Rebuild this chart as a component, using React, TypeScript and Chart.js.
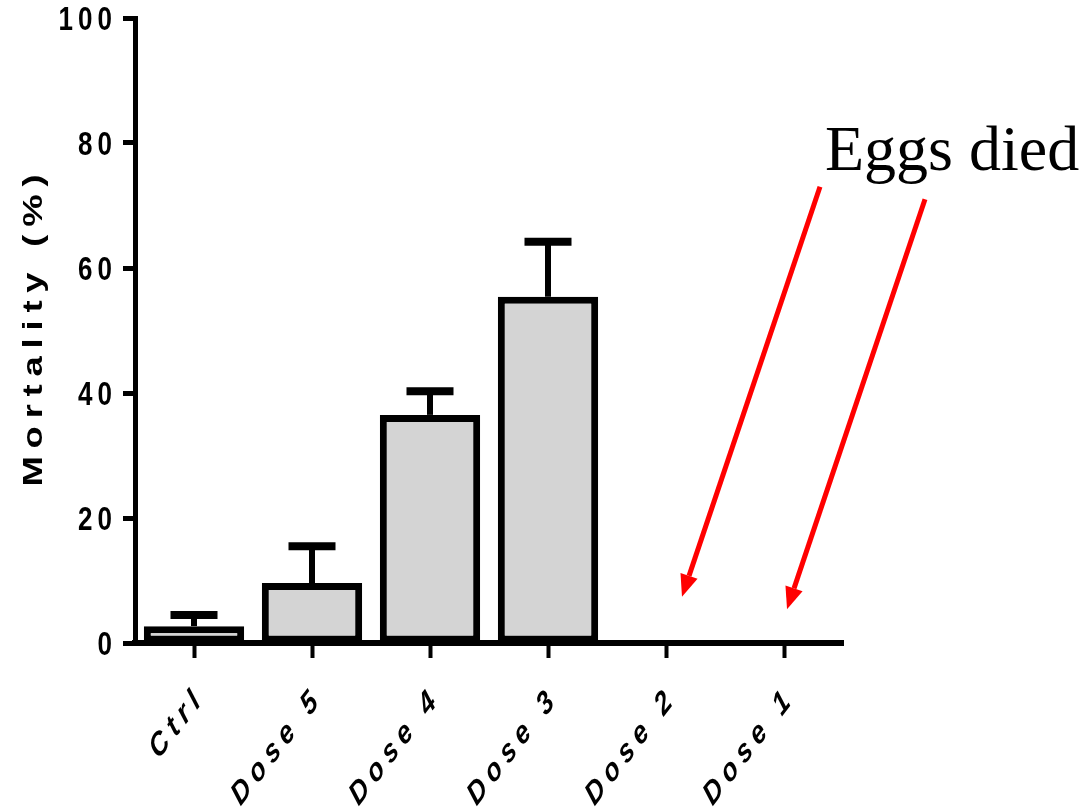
import React, { useEffect, useRef } from "react";
import { Chart, registerables } from "chart.js";

Chart.register(...registerables);

const categories = ["Ctrl", "Dose 5", "Dose 4", "Dose 3", "Dose 2", "Dose 1"];
const mortality: (number | null)[] = [2.7, 9.6, 36.5, 55.4, null, null];
const errorUpper: (number | null)[] = [4.5, 15.5, 40.3, 64.2, null, null];
const yTicks = [0, 20, 40, 60, 80, 100];
const yTitle = "Mortality (%)";
const annotationText = "Eggs died";
const arrowTargets = [
  { index: 4, value: 7.4, xOffset: 16 },
  { index: 5, value: 5.4, xOffset: 3 },
];

const sansFont = '"Liberation Sans", Arial, sans-serif';
const STRETCH = 1.3;

const customText = {
  id: "customText",
  afterDraw(chart: any) {
    const ctx = chart.ctx as CanvasRenderingContext2D;
    const xs = chart.scales.x;
    const ys = chart.scales.y;
    const area = chart.chartArea;

    // y tick labels
    ctx.save();
    ctx.fillStyle = "#000";
    ctx.font = `bold 26px ${sansFont}`;
    (ctx as any).letterSpacing = "5px";
    ctx.textAlign = "right";
    ctx.textBaseline = "middle";
    yTicks.forEach((t) => {
      ctx.save();
      ctx.translate(117, ys.getPixelForValue(t) + 3);
      ctx.scale(1, STRETCH);
      ctx.fillText(String(t), 0, 0);
      ctx.restore();
    });
    ctx.restore();

    // y title
    const titleSpacing = 6;
    ctx.save();
    ctx.fillStyle = "#000";
    ctx.font = `bold 28px ${sansFont}`;
    (ctx as any).letterSpacing = `${titleSpacing}px`;
    ctx.textAlign = "center";
    ctx.textBaseline = "alphabetic";
    ctx.translate(42, (area.top + area.bottom) / 2 - (titleSpacing * STRETCH) / 2);
    ctx.scale(1, STRETCH);
    ctx.rotate(-Math.PI / 2);
    ctx.fillText(yTitle, 0, 0);
    ctx.restore();

    // x tick labels
    ctx.save();
    ctx.fillStyle = "#000";
    ctx.font = `italic bold 25px ${sansFont}`;
    (ctx as any).letterSpacing = "6px";
    ctx.textAlign = "right";
    ctx.textBaseline = "middle";
    categories.forEach((c, i) => {
      const x = xs.getPixelForTick(i);
      ctx.save();
      ctx.translate(x + 7, 692);
      ctx.scale(1, STRETCH);
      ctx.rotate(-Math.PI / 4);
      ctx.fillText(c, 0, 0);
      ctx.restore();
    });
    ctx.restore();

    // annotation
    ctx.save();
    ctx.fillStyle = "#000";
    ctx.font = `64px "Liberation Serif", "Times New Roman", serif`;
    ctx.textAlign = "left";
    ctx.textBaseline = "alphabetic";
    ctx.fillText(annotationText, 825, 170);
    ctx.restore();

    // arrows
    ctx.save();
    ctx.strokeStyle = "#ff0000";
    ctx.fillStyle = "#ff0000";
    ctx.lineWidth = 5;
    arrowTargets.forEach((a) => {
      const tx = xs.getPixelForValue(a.index) + a.xOffset;
      const ty = ys.getPixelForValue(a.value);
      const sx = tx + 138;
      const sy = ty - 410;
      const ang = Math.atan2(ty - sy, tx - sx);
      const headLen = 22;
      const headW = 9;
      const bx = tx - headLen * Math.cos(ang);
      const by = ty - headLen * Math.sin(ang);
      ctx.beginPath();
      ctx.moveTo(sx, sy);
      ctx.lineTo(bx, by);
      ctx.stroke();
      ctx.beginPath();
      ctx.moveTo(tx, ty);
      ctx.lineTo(bx + headW * Math.sin(ang), by - headW * Math.cos(ang));
      ctx.lineTo(bx - headW * Math.sin(ang), by + headW * Math.cos(ang));
      ctx.closePath();
      ctx.fill();
    });
    ctx.restore();
  },
};

const errorBars = {
  id: "errorBars",
  beforeDatasetsDraw(chart: any) {
    const ctx = chart.ctx as CanvasRenderingContext2D;
    const ys = chart.scales.y;
    const meta = chart.getDatasetMeta(0);
    ctx.save();
    ctx.strokeStyle = "#000";
    ctx.lineCap = "butt";
    meta.data.forEach((el: any, i: number) => {
      const up = errorUpper[i];
      const v = mortality[i];
      if (up == null || v == null) return;
      const yTop = ys.getPixelForValue(up);
      const yBar = ys.getPixelForValue(v);
      ctx.lineWidth = 6;
      ctx.beginPath();
      ctx.moveTo(el.x, yBar);
      ctx.lineTo(el.x, yTop);
      ctx.stroke();
      ctx.lineWidth = 8;
      ctx.beginPath();
      ctx.moveTo(el.x - 23.5, yTop);
      ctx.lineTo(el.x + 23.5, yTop);
      ctx.stroke();
    });
    ctx.restore();
  },
};

export default function App() {
  const ref = useRef<HTMLCanvasElement | null>(null);
  useEffect(() => {
    if (!ref.current) return;
    const chart = new Chart(ref.current, {
      type: "bar",
      data: {
        labels: categories,
        datasets: [
          {
            data: mortality as any,
            backgroundColor: "#d4d4d4",
            borderColor: "#000",
            borderWidth: 7,
            borderSkipped: false,
            categoryPercentage: 1,
            barPercentage: 0.85,
          },
        ],
      },
      options: {
        animation: false,
        responsive: true,
        maintainAspectRatio: false,
        layout: { padding: { left: 0, top: 18, right: 243, bottom: 0 } },
        plugins: { legend: { display: false }, tooltip: { enabled: false } },
        scales: {
          x: {
            offset: true,
            grid: {
              display: true,
              offset: false,
              drawOnChartArea: false,
              drawTicks: true,
              tickLength: 15,
              tickWidth: 4,
              tickColor: "#000",
            },
            border: { display: true, color: "#000", width: 6 },
            ticks: { display: false },
            afterFit: (s: any) => {
              s.height = 168;
            },
          },
          y: {
            min: 0,
            max: 100,
            ticks: { display: false, stepSize: 20 },
            grid: {
              display: true,
              drawOnChartArea: false,
              drawTicks: true,
              tickLength: 12,
              tickWidth: 5,
              tickColor: "#000",
            },
            border: { display: true, color: "#000", width: 5 },
            afterFit: (s: any) => {
              s.width = 135;
            },
          },
        },
      },
      plugins: [errorBars, customText],
    });
    return () => chart.destroy();
  }, []);
  return (
    <div style={{ position: "absolute", left: 0, top: 0, width: 1086, height: 811, background: "#fff" }}>
      <canvas ref={ref} />
    </div>
  );
}
